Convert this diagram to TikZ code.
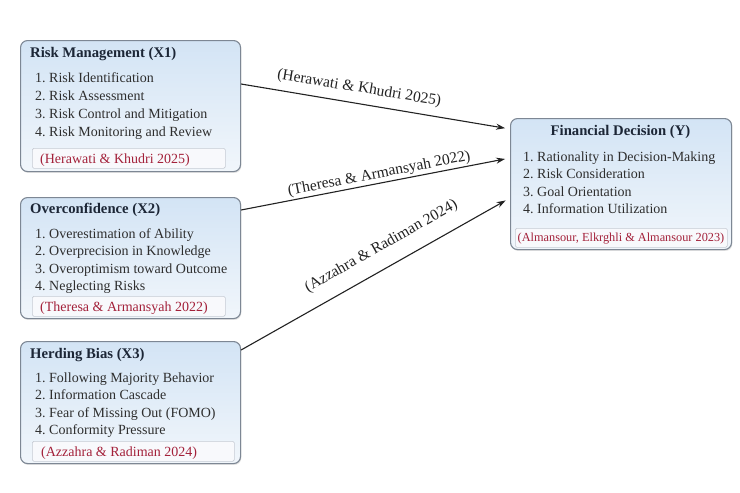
\documentclass[tikz,border=0pt]{standalone}
\usepackage{fontspec}
\setmainfont{Liberation Serif}
\usetikzlibrary{shadows,arrows.meta}
\definecolor{boxborder}{HTML}{7D8794}
\definecolor{boxtop}{HTML}{D3E4F5}
\definecolor{boxbot}{HTML}{F1F6FB}
\definecolor{citefill}{HTML}{F8F9FC}
\definecolor{citeborder}{HTML}{C6CBD4}
\definecolor{citetext}{HTML}{A3213A}
\definecolor{titletext}{HTML}{1C2636}
\definecolor{bodytext}{HTML}{2E2E2E}
\definecolor{arrowcol}{HTML}{222222}
\tikzset{
  varbox/.style={draw=boxborder, line width=1.1pt, rounded corners=7pt,
    top color=boxtop, bottom color=boxbot, anchor=north west, inner sep=0pt,
    drop shadow={shadow xshift=0.8pt, shadow yshift=-1.4pt, opacity=0.22}},
  titletxt/.style={anchor=base west, inner sep=0pt, text=titletext,
    font=\fontsize{14.7}{16}\selectfont\bfseries},
  itemtxt/.style={anchor=base west, inner sep=0pt, text=bodytext,
    font=\fontsize{14}{16}\selectfont},
  citebox/.style={draw=citeborder, fill=citefill, line width=0.6pt,
    rounded corners=1.5pt, anchor=north west, inner sep=0pt},
  citetxt/.style={anchor=base west, inner sep=0pt, text=citetext,
    font=\fontsize{14}{16}\selectfont},
  linkarrow/.style={draw=arrowcol, line width=1.1pt, -{Stealth[length=9pt,width=6pt]},
    shorten >=5pt},
  linklabel/.style={sloped, text=arrowcol, font=\fontsize{15.5}{17}\selectfont, inner sep=3pt}
}
\begin{document}
\begin{tikzpicture}[x=1pt,y=-1pt]
\useasboundingbox (0,0) rectangle (740,493);
\fill[white] (0,0) rectangle (740,493);

% ---------- X1 ----------
\node[varbox, minimum width=220pt, minimum height=131pt] (x1) at (20,40) {};
\node[titletxt] (x1t) at (30,57) {Risk Management (X1)};
\node[itemtxt] (x1a) at (35,82) {1.\ Risk Identification};
\node[itemtxt] (x1b) at (35,100) {2.\ Risk Assessment};
\node[itemtxt] (x1c) at (35,118) {3.\ Risk Control and Mitigation};
\node[itemtxt] (x1d) at (35,136) {4.\ Risk Monitoring and Review};
\node[citebox, minimum width=193pt, minimum height=20pt] (x1cb) at (32,148) {};
\node[citetxt] (x1ct) at (40,163) {(Herawati \& Khudri 2025)};

% ---------- X2 ----------
\node[varbox, minimum width=220pt, minimum height=121pt] (x2) at (20,197) {};
\node[titletxt] (x2t) at (30,213) {Overconfidence (X2)};
\node[itemtxt] (x2a) at (35,238) {1.\ Overestimation of Ability};
\node[itemtxt] (x2b) at (35,255.5) {2.\ Overprecision in Knowledge};
\node[itemtxt] (x2c) at (35,273) {3.\ Overoptimism toward Outcome};
\node[itemtxt] (x2d) at (35,290) {4.\ Neglecting Risks};
\node[citebox, minimum width=193pt, minimum height=20pt] (x2cb) at (32,296) {};
\node[citetxt] (x2ct) at (40,311) {(Theresa \& Armansyah 2022)};

% ---------- X3 ----------
\node[varbox, minimum width=220pt, minimum height=122pt] (x3) at (20,341) {};
\node[titletxt] (x3t) at (30,358) {Herding Bias (X3)};
\node[itemtxt] (x3a) at (35,382) {1.\ Following Majority Behavior};
\node[itemtxt] (x3b) at (35,399.5) {2.\ Information Cascade};
\node[itemtxt] (x3c) at (35,417) {3.\ Fear of Missing Out (FOMO)};
\node[itemtxt] (x3d) at (35,434) {4.\ Conformity Pressure};
\node[citebox, minimum width=202pt, minimum height=20pt] (x3cb) at (32,441) {};
\node[citetxt] (x3ct) at (41,456) {(Azzahra \& Radiman 2024)};

% ---------- Y ----------
\node[varbox, minimum width=221pt, minimum height=131pt] (y) at (510,118) {};
\node[titletxt, anchor=base] (yt) at (620.5,135) {Financial Decision (Y)};
\node[itemtxt] (ya) at (523,161) {1.\ Rationality in Decision-Making};
\node[itemtxt] (yb) at (523,178.5) {2.\ Risk Consideration};
\node[itemtxt] (yc) at (523,196) {3.\ Goal Orientation};
\node[itemtxt] (yd) at (523,213.5) {4.\ Information Utilization};
\node[citebox, minimum width=212pt, minimum height=19pt] (ycb) at (515,228) {};
\node[citetxt, anchor=base, font=\fontsize{12.3}{14}\selectfont] (yct) at (621,241.5) {(Almansour, Elkrghli \& Almansour 2023)};

% ---------- connectors ----------
\draw[linkarrow] ([yshift=-44pt]x1.north east) -- ([yshift=-11pt]y.north west)
  node[linklabel, pos=0.43, above=4.5pt] (l1) {(Herawati \& Khudri 2025)};
\draw[linkarrow] ([yshift=-13pt]x2.north east) -- ([yshift=-40pt]y.north west)
  node[linklabel, pos=0.52, above=-1.5pt] (l2) {(Theresa \& Armansyah 2022)};
\draw[linkarrow] ([yshift=-9pt]x3.north east) -- ([yshift=-80pt]y.north west)
  node[linklabel, pos=0.56, above=10.5pt] (l3) {(Azzahra \& Radiman 2024)};
\end{tikzpicture}
\end{document}
